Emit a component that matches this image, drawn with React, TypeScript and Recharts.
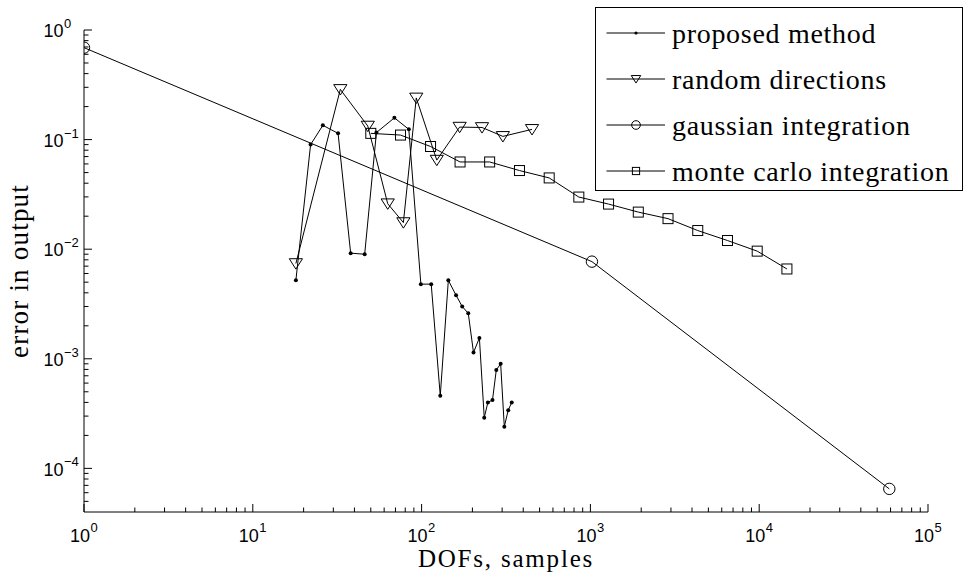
import {
  ScatterChart,
  Scatter,
  XAxis,
  YAxis,
  Legend,
  Label,
} from "recharts";

// values (x: DOFs / samples, y: error)
const proposedX = [18, 22, 26, 32, 38, 46, 54, 69, 84, 99, 114, 129, 144, 160, 174, 189, 203, 220, 235, 247, 263, 277, 294, 309, 326, 342];
const proposedY = [0.0052, 0.09, 0.135, 0.114, 0.0092, 0.009, 0.116, 0.158, 0.124, 0.0048, 0.0048, 0.00046, 0.0052, 0.0038, 0.003, 0.0026, 0.00114, 0.00155, 0.00029, 0.0004, 0.00042, 0.00079, 0.0009, 0.00024, 0.00034, 0.0004];

const randomX = [18, 33, 48, 63, 78, 93, 123, 168, 228, 303, 451];
const randomY = [0.0074, 0.287, 0.133, 0.026, 0.0175, 0.24, 0.065, 0.13, 0.129, 0.107, 0.124];

const gaussX = [1, 1021, 59000];
const gaussY = [0.69, 0.0077, 0.000065];

const mcX = [50, 75, 113, 169, 253, 380, 570, 854, 1281, 1922, 2883, 4325, 6487, 9731, 14596];
const mcY = [0.114, 0.11, 0.0865, 0.0625, 0.0625, 0.0522, 0.0447, 0.0299, 0.0258, 0.0218, 0.019, 0.0148, 0.012, 0.0096, 0.0066];

const seriesNames = ["proposed method", "random directions", "gaussian integration", "monte carlo integration"];
const seriesKinds = ["dot", "triangle", "circle", "square"];

const xMajor = [1, 10, 100, 1000, 10000, 100000];
const yMajor = [0.0001, 0.001, 0.01, 0.1, 1];
const minorSteps = [2, 3, 4, 5, 6, 7, 8, 9];
const xDomain = [1, 100000];
const yDomain = [0.00004, 1];

const toPoints = (xs: number[], ys: number[]) => xs.map((x, i) => ({ x, y: ys[i] }));

const proposed = toPoints(proposedX, proposedY);
const random = toPoints(randomX, randomY);
const gauss = toPoints(gaussX, gaussY);
const mc = toPoints(mcX, mcY);

const withMinor = (majors: number[], lo: number, hi: number) => {
  const out: number[] = [];
  [majors[0] / 10, ...majors].forEach((m) => {
    out.push(m);
    minorSteps.forEach((k) => out.push(m * k));
  });
  return out.filter((v) => v >= lo * 1.0001 && v <= hi * 1.0001).sort((a, b) => a - b);
};
const xTicks = withMinor(xMajor, xDomain[0] / 1.0002, xDomain[1]);
const yTicks = withMinor(yMajor, yDomain[0], yDomain[1]);

const SANS = '"Liberation Sans", Arimo, Arial, sans-serif';
const SERIF = '"Liberation Serif", Tinos, "Times New Roman", serif';
const INK = "#000";

const isMajor = (v: number) => Math.abs(Math.log10(v) - Math.round(Math.log10(v))) < 1e-6;
const expText = (v: number) => {
  const e = Math.round(Math.log10(v));
  return e < 0 ? "\u2212" + Math.abs(e) : String(e);
};

function Marker({ kind, cx, cy, small }: { kind: string; cx: number; cy: number; small?: boolean }) {
  const s = small ? 0.72 : 1;
  if (kind === "dot") return <circle cx={cx} cy={cy} r={small ? 1.6 : 2} fill={INK} />;
  if (kind === "triangle") {
    const w = 6.6 * s, t = 4.8 * s, b = 5.6 * s;
    return <polygon points={`${cx - w},${cy - t} ${cx + w},${cy - t} ${cx},${cy + b}`} fill="none" stroke={INK} strokeWidth={1} />;
  }
  if (kind === "circle") return <circle cx={cx} cy={cy} r={5.7 * (small ? 0.76 : 1)} fill="none" stroke={INK} strokeWidth={1} />;
  const h = 5 * s;
  return <rect x={cx - h} y={cy - h} width={2 * h} height={2 * h} fill="none" stroke={INK} strokeWidth={1} />;
}

function XTick(props: any) {
  const { x, y, payload } = props;
  const v = payload.value;
  const major = isMajor(v);
  return (
    <g>
      <line x1={x} x2={x} y1={y} y2={y - (major ? 8 : 4.5)} stroke={INK} />
      {major && (
        <g fill={INK} fontFamily={SANS}>
          <text x={x - 4} y={y + 29.5} textAnchor="middle" fontSize={18}>10</text>
          <text x={x + 6.5} y={y + 19.5} fontSize={13}>{expText(v)}</text>
        </g>
      )}
    </g>
  );
}

function YTick(props: any) {
  const { x, y, payload } = props;
  const v = payload.value;
  const major = isMajor(v);
  return (
    <g>
      <line x1={x} x2={x + (major ? 8 : 4.5)} y1={y} y2={y} stroke={INK} />
      {major && (
        <g fill={INK} fontFamily={SANS}>
          <text x={x - 20.5} y={y + 7.3} textAnchor="end" fontSize={18}>10</text>
          <text x={x - 20} y={y - 2} fontSize={13}>{expText(v)}</text>
        </g>
      )}
    </g>
  );
}

// legend drawn as html rows: small svg swatch + serif label
function LegendBox(props: any) {
  const payload = (props.payload || []) as any[];
  const rows = seriesNames.filter((n) => payload.some((p) => p.value === n));
  return (
    <div
      style={{
        boxSizing: "border-box",
        width: 368,
        height: 184,
        border: "1.3px solid #000",
        background: "#fff",
        paddingTop: 2,
      }}
    >
      {rows.map((name) => {
        const kind = seriesKinds[seriesNames.indexOf(name)];
        return (
          <div key={name} style={{ display: "flex", alignItems: "center", height: 46 }}>
            <svg width={76} height={20} style={{ display: "block", flex: "none" }}>
              <line x1={10.5} x2={69} y1={10} y2={10} stroke={INK} />
              <Marker kind={kind} cx={40} cy={10} small />
            </svg>
            <span
              style={{
                fontFamily: SERIF,
                fontSize: 28,
                letterSpacing: 0.7,
                lineHeight: "28px",
                color: INK,
                whiteSpace: "nowrap",
                marginTop: 2,
              }}
            >
              {name}
            </span>
          </div>
        );
      })}
    </div>
  );
}

const lineStyle = { stroke: INK, strokeWidth: 1 };

export default function App() {
  return (
    <div style={{ position: "absolute", left: 0, top: 0, width: 965, height: 573, background: "#fff" }}>
      <ScatterChart width={965} height={573} margin={{ top: 30, right: 37, bottom: 0, left: 0 }}>
        <XAxis
          dataKey="x"
          type="number"
          scale="log"
          domain={xDomain}
          allowDataOverflow
          ticks={xTicks}
          interval={0}
          tickSize={0}
          tickMargin={0}
          tickLine={false}
          tick={<XTick />}
          height={61}
          axisLine={{ stroke: INK }}
        >
          <Label
            content={({ viewBox }: any) => (
              <text x={viewBox.x + viewBox.width / 2} y={viewBox.y + 55} textAnchor="middle" fill={INK} fontFamily={SERIF} fontSize={25} letterSpacing={1.8}>
                DOFs, samples
              </text>
            )}
          />
        </XAxis>
        <YAxis
          dataKey="y"
          type="number"
          scale="log"
          domain={yDomain}
          allowDataOverflow
          ticks={yTicks}
          interval={0}
          tickSize={0}
          tickMargin={0}
          tickLine={false}
          tick={<YTick />}
          width={84}
          axisLine={{ stroke: INK }}
        >
          <Label
            content={({ viewBox }: any) => {
              const cx = viewBox.x + 28;
              const cy = viewBox.y + viewBox.height / 2;
              return (
                <text x={cx} y={cy} transform={`rotate(-90, ${cx}, ${cy})`} textAnchor="middle" fill={INK} fontFamily={SERIF} fontSize={27} letterSpacing={1.2}>
                  error in output
                </text>
              );
            }}
          />
        </YAxis>
        <Legend
          layout="vertical"
          align="center"
          verticalAlign="middle"
          content={<LegendBox />}
          wrapperStyle={{ left: 595, top: 7, width: 368, height: 184 }}
        />
        <Scatter name={seriesNames[0]} data={proposed} line={lineStyle} fill={INK} isAnimationActive={false}
          shape={(p: any) => <Marker kind="dot" cx={p.cx} cy={p.cy} />} />
        <Scatter name={seriesNames[1]} data={random} line={lineStyle} fill={INK} isAnimationActive={false}
          shape={(p: any) => <Marker kind="triangle" cx={p.cx} cy={p.cy} />} />
        <Scatter name={seriesNames[2]} data={gauss} line={lineStyle} fill={INK} isAnimationActive={false}
          shape={(p: any) => <Marker kind="circle" cx={p.cx} cy={p.cy} />} />
        <Scatter name={seriesNames[3]} data={mc} line={lineStyle} fill={INK} isAnimationActive={false}
          shape={(p: any) => <Marker kind="square" cx={p.cx} cy={p.cy} />} />
      </ScatterChart>
    </div>
  );
}
